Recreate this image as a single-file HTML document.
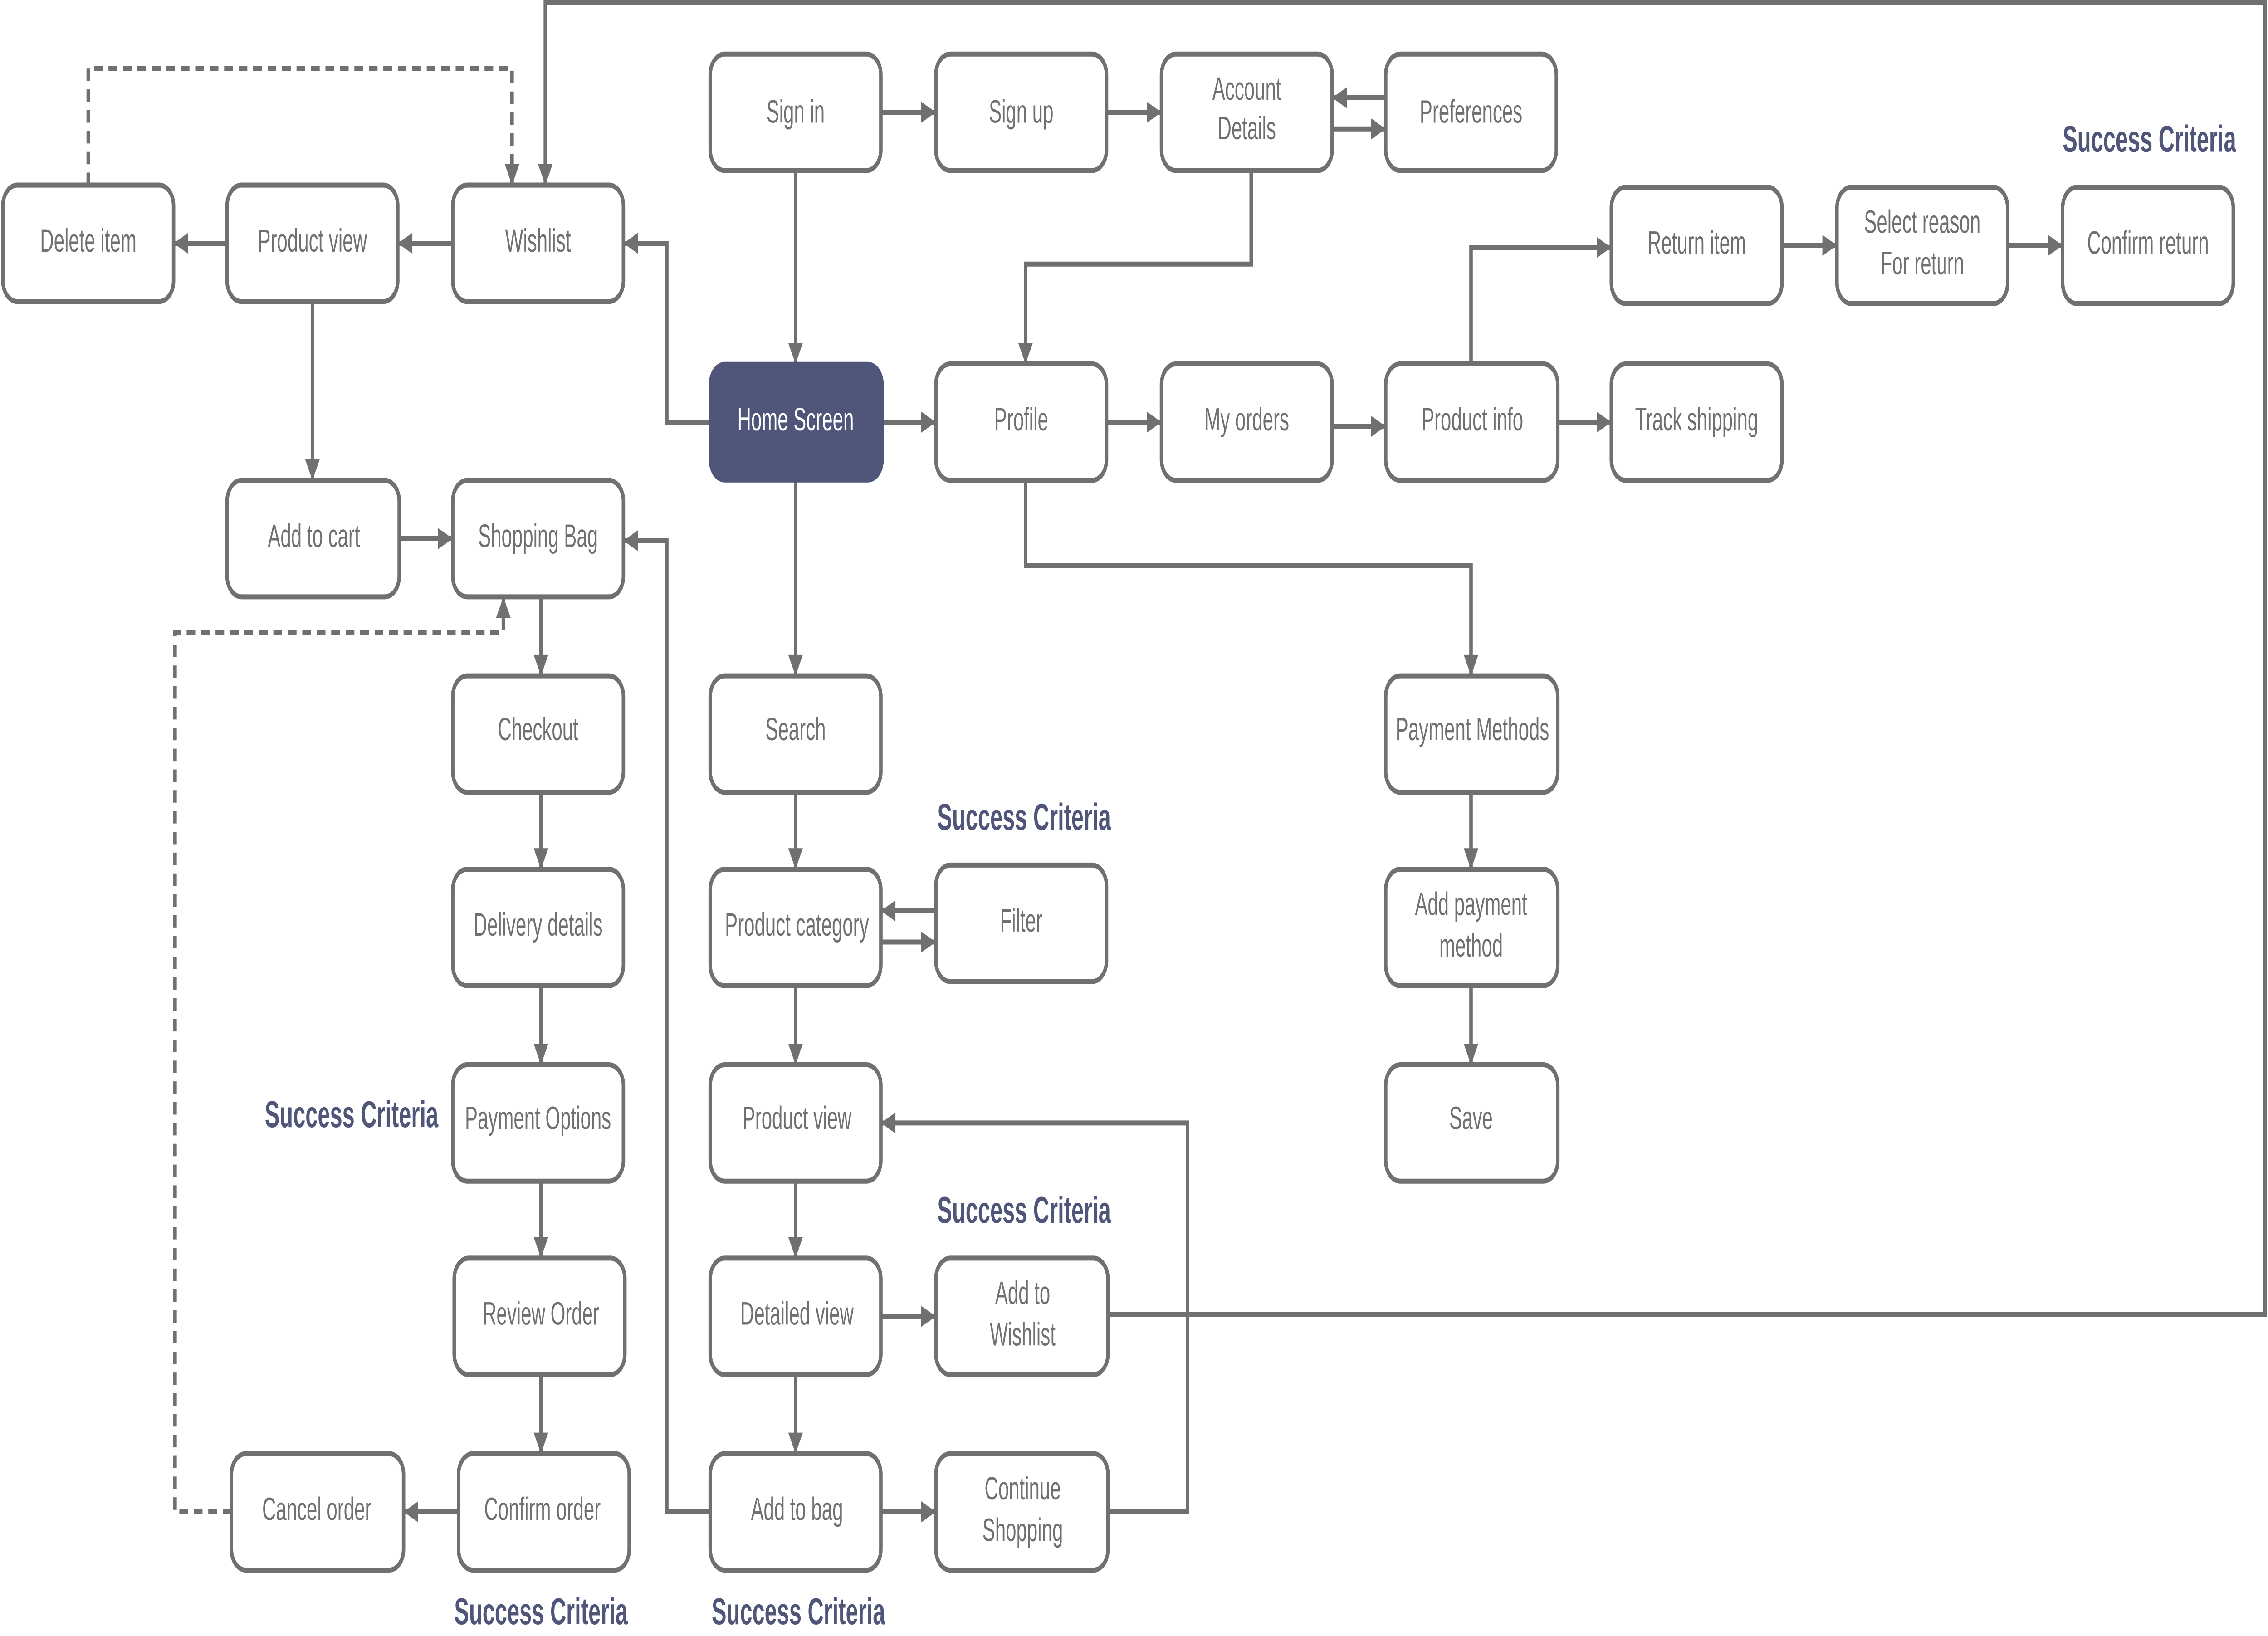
<!DOCTYPE html>
<html><head><meta charset="utf-8"><style>
html,body{margin:0;padding:0;background:#fff;width:100vw;height:100vh;overflow:hidden;}
svg{display:block;width:100vw;height:100vh;}
text{font-family:"Liberation Sans",sans-serif;}
</style></head><body>
<svg viewBox="0 0 1568 786.7" preserveAspectRatio="none" xmlns="http://www.w3.org/2000/svg">
<defs>
<marker id="a" viewBox="0 0 10 10" refX="10" refY="5" markerWidth="4.6" markerHeight="4.2" orient="auto" markerUnits="strokeWidth"><path d="M0,0L10,5L0,10z" fill="#707070"/></marker>
</defs>
<g fill="none" stroke="#707070" stroke-width="2.4">
<path d="M609,54H647" marker-end="url(#a)"/>
<path d="M765,54H803" marker-end="url(#a)"/>
<path d="M958,47H921" marker-end="url(#a)"/>
<path d="M921,62H958" marker-end="url(#a)"/>
<path d="M550,82V175" marker-end="url(#a)"/>
<path d="M865,82V127H709V175" marker-end="url(#a)"/>
<path d="M610,203H647" marker-end="url(#a)"/>
<path d="M765,203H803" marker-end="url(#a)"/>
<path d="M921,205H958" marker-end="url(#a)"/>
<path d="M1077,203H1114" marker-end="url(#a)"/>
<path d="M1017,175V119H1114" marker-end="url(#a)"/>
<path d="M1232,118H1270" marker-end="url(#a)"/>
<path d="M1388,118H1426" marker-end="url(#a)"/>
<path d="M709,231V272H1017V325" marker-end="url(#a)"/>
<path d="M1017,381V418" marker-end="url(#a)"/>
<path d="M1017,474V512" marker-end="url(#a)"/>
<path d="M491,203H461V117H431" marker-end="url(#a)"/>
<path d="M313,117H275" marker-end="url(#a)"/>
<path d="M157,117H120" marker-end="url(#a)"/>
<path d="M61,89V33H354V89" stroke-dasharray="6,4" marker-end="url(#a)"/>
<path d="M766,632H1566V1H377V89" marker-end="url(#a)"/>
<path d="M216,145V231" marker-end="url(#a)"/>
<path d="M276,259H313" marker-end="url(#a)"/>
<path d="M374,287V325" marker-end="url(#a)"/>
<path d="M374,381V418" marker-end="url(#a)"/>
<path d="M374,474V512" marker-end="url(#a)"/>
<path d="M374,568V605" marker-end="url(#a)"/>
<path d="M374,661V699" marker-end="url(#a)"/>
<path d="M317,727H279" marker-end="url(#a)"/>
<path d="M160,727H121V304H348V287" stroke-dasharray="6,4" marker-end="url(#a)"/>
<path d="M491,727H461V260H431" marker-end="url(#a)"/>
<path d="M550,231V325" marker-end="url(#a)"/>
<path d="M550,381V418" marker-end="url(#a)"/>
<path d="M647,438H609" marker-end="url(#a)"/>
<path d="M609,453H647" marker-end="url(#a)"/>
<path d="M550,474V512" marker-end="url(#a)"/>
<path d="M550,568V605" marker-end="url(#a)"/>
<path d="M550,661V699" marker-end="url(#a)"/>
<path d="M609,633H647" marker-end="url(#a)"/>
<path d="M609,727H647" marker-end="url(#a)"/>
<path d="M766,727H821V540H609" marker-end="url(#a)"/>
</g>
<g fill="#fff" stroke="#707070" stroke-width="2.4">
<rect x="491" y="26" width="118" height="56" rx="10"/>
<rect x="647" y="26" width="118" height="56" rx="10"/>
<rect x="803" y="26" width="118" height="56" rx="10"/>
<rect x="958" y="26" width="118" height="56" rx="10"/>
<rect x="2" y="89" width="118" height="56" rx="10"/>
<rect x="157" y="89" width="118" height="56" rx="10"/>
<rect x="313" y="89" width="118" height="56" rx="10"/>
<rect x="1114" y="90" width="118" height="56" rx="10"/>
<rect x="1270" y="90" width="118" height="56" rx="10"/>
<rect x="1426" y="90" width="118" height="56" rx="10"/>
<rect x="647" y="175" width="118" height="56" rx="10"/>
<rect x="803" y="175" width="118" height="56" rx="10"/>
<rect x="958" y="175" width="119" height="56" rx="10"/>
<rect x="1114" y="175" width="118" height="56" rx="10"/>
<rect x="157" y="231" width="119" height="56" rx="10"/>
<rect x="313" y="231" width="118" height="56" rx="10"/>
<rect x="313" y="325" width="118" height="56" rx="10"/>
<rect x="491" y="325" width="118" height="56" rx="10"/>
<rect x="958" y="325" width="119" height="56" rx="10"/>
<rect x="313" y="418" width="118" height="56" rx="10"/>
<rect x="491" y="418" width="118" height="56" rx="10"/>
<rect x="647" y="416" width="118" height="56" rx="10"/>
<rect x="958" y="418" width="119" height="56" rx="10"/>
<rect x="313" y="512" width="118" height="56" rx="10"/>
<rect x="491" y="512" width="118" height="56" rx="10"/>
<rect x="958" y="512" width="119" height="56" rx="10"/>
<rect x="314" y="605" width="118" height="56" rx="10"/>
<rect x="491" y="605" width="118" height="56" rx="10"/>
<rect x="647" y="605" width="119" height="56" rx="10"/>
<rect x="160" y="699" width="119" height="56" rx="10"/>
<rect x="317" y="699" width="118" height="56" rx="10"/>
<rect x="491" y="699" width="118" height="56" rx="10"/>
<rect x="647" y="699" width="119" height="56" rx="10"/>
</g>
<rect x="490" y="174" width="121" height="58" rx="11" fill="#50557a"/>
<g transform="scale(0.85 1)">
<g fill="#707070" font-size="15.5" text-anchor="middle">
<text x="647.1" y="59">Sign in</text>
<text x="830.6" y="59">Sign up</text>
<text x="1014.1" y="48">Account</text><text x="1014.1" y="67">Details</text>
<text x="1196.5" y="59">Preferences</text>
<text x="71.8" y="121">Delete item</text>
<text x="254.1" y="121">Product view</text>
<text x="437.6" y="121">Wishlist</text>
<text x="1380" y="122">Return item</text>
<text x="1563.5" y="112">Select reason</text><text x="1563.5" y="132">For return</text>
<text x="1747.1" y="122">Confirm return</text>
<text x="830.6" y="207">Profile</text>
<text x="1014.1" y="207">My orders</text>
<text x="1197.6" y="207">Product info</text>
<text x="1380" y="207">Track shipping</text>
<text x="255.3" y="263">Add to cart</text>
<text x="437.6" y="263">Shopping Bag</text>
<text x="437.6" y="356">Checkout</text>
<text x="647.1" y="356">Search</text>
<text x="1197.6" y="356">Payment Methods</text>
<text x="437.6" y="450">Delivery details</text>
<text x="648.2" y="450">Product category</text>
<text x="830.6" y="448">Filter</text>
<text x="1196.5" y="440">Add payment</text><text x="1196.5" y="460">method</text>
<text x="437.6" y="543">Payment Options</text>
<text x="648.2" y="543">Product view</text>
<text x="1196.5" y="543">Save</text>
<text x="440" y="637">Review Order</text>
<text x="648.2" y="637">Detailed view</text>
<text x="831.8" y="627">Add to</text><text x="831.8" y="647">Wishlist</text>
<text x="257.6" y="731">Cancel order</text>
<text x="441.2" y="731">Confirm order</text>
<text x="648.2" y="731">Add to bag</text>
<text x="831.8" y="721">Continue</text><text x="831.8" y="741">Shopping</text>
</g>
<text x="647.1" y="207" fill="#fff" font-size="15.5" text-anchor="middle">Home Screen</text>
<g fill="#50557a" font-size="18" font-weight="bold" text-anchor="middle">
<text x="1748.2" y="73">Success Criteria</text>
<text x="832.9" y="399">Success Criteria</text>
<text x="285.9" y="542">Success Criteria</text>
<text x="832.9" y="588">Success Criteria</text>
<text x="440" y="781">Success Criteria</text>
<text x="649.4" y="781">Success Criteria</text>
</g>
</g>
</svg>
</body></html>
